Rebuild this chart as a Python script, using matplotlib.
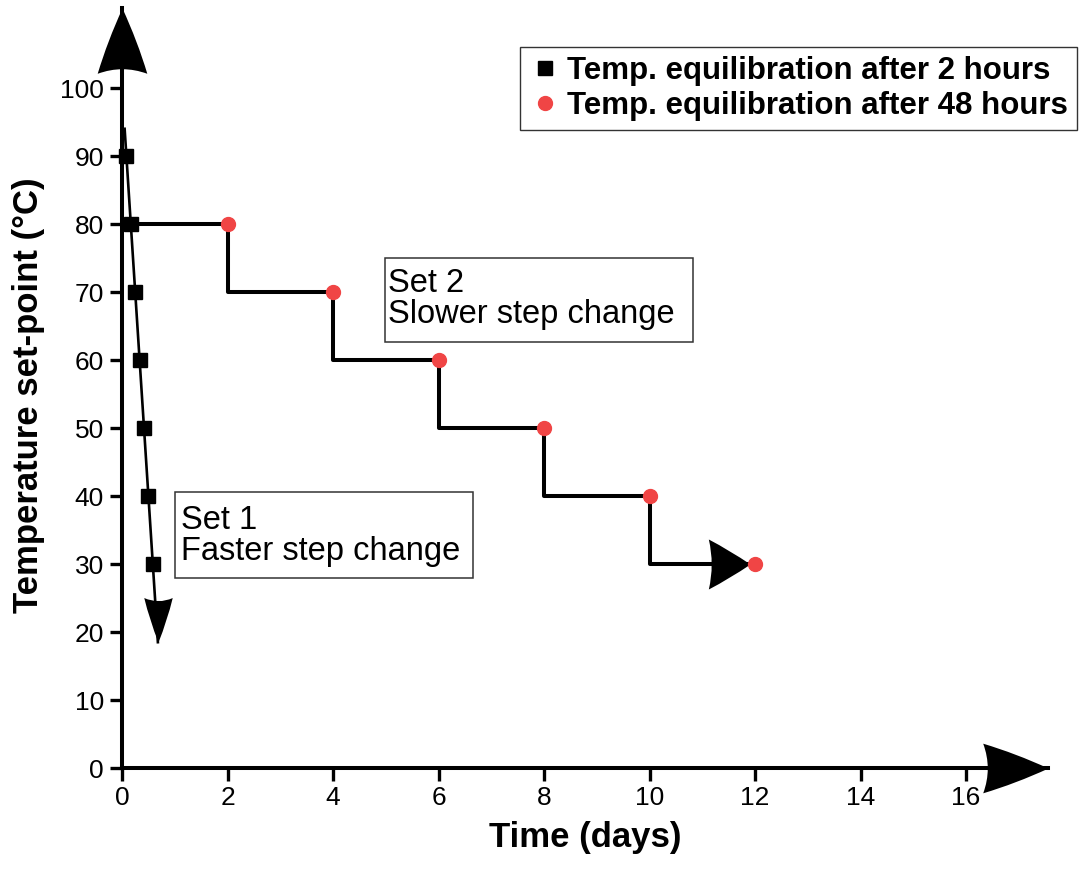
import numpy as np
import matplotlib.pyplot as plt
from matplotlib.path import Path
from matplotlib.patches import Rectangle

plt.rcParams['font.family'] = ['Liberation Sans', 'DejaVu Sans']

# ---- data ----
fast_days = [2/24, 4/24, 6/24, 8/24, 10/24, 12/24, 14/24]   # every 2 hours
fast_temp = [90, 80, 70, 60, 50, 40, 30]
slow_days = [2, 4, 6, 8, 10, 12]                              # every 48 hours
slow_temp = [80, 70, 60, 50, 40, 30]
x_ticks = [0, 2, 4, 6, 8, 10, 12, 14, 16]
y_ticks = [0, 10, 20, 30, 40, 50, 60, 70, 80, 90, 100]

fast_line_start = (0.05, 94)
fast_arrow_tip = (0.68, 18.5)
step_arrow_tip = 11.9

red = '#f04545'


def head(direction, depth=0.07, half_w=0.38, bulge=0.04):
    # arrow head with slightly concave back, tip at origin
    verts = np.array([(0, 0), (half_w / 2 + bulge, -0.5), (half_w, -1),
                      (0, -1 + 2 * depth), (-half_w, -1),
                      (-half_w / 2 - bulge, -0.5), (0, 0), (0, 0)])
    codes = [Path.MOVETO, Path.CURVE3, Path.CURVE3, Path.CURVE3, Path.CURVE3,
             Path.CURVE3, Path.CURVE3, Path.CLOSEPOLY]
    rot = {'up': 0, 'down': 180, 'right': -90}[direction]
    t = np.deg2rad(rot)
    R = np.array([[np.cos(t), -np.sin(t)], [np.sin(t), np.cos(t)]])
    return Path(verts @ R.T, codes)


fig = plt.figure(figsize=(10.81, 8.69), dpi=100)
ax = fig.add_axes([122 / 1081, 101 / 869, 926 / 1081, 760 / 869])
ax.set_xlim(0, 926 / 52.75)
ax.set_ylim(0, 760 / 6.8)

for s in ['top', 'right']:
    ax.spines[s].set_visible(False)
for s in ['left', 'bottom']:
    ax.spines[s].set_linewidth(2.9)

ax.set_xticks(x_ticks)
ax.set_yticks(y_ticks)
ax.tick_params(direction='out', length=9, width=2.4, labelsize=19, pad=4)

# axis arrow heads
ax.plot(0, 760 / 6.8, marker=head('up'), ms=94, color='black', mew=0, clip_on=False, zorder=5)
ax.plot(926 / 52.75, 0, marker=head('right'), ms=94, color='black', mew=0, clip_on=False, zorder=5)

# set 1: fast steps
ax.plot([fast_line_start[0], fast_arrow_tip[0]], [fast_line_start[1], fast_arrow_tip[1]],
        color='black', lw=1.9, clip_on=False, zorder=3)
ax.plot(*fast_arrow_tip, marker=head('down', half_w=0.32), ms=64, color='black', mew=0, zorder=4)
ax.plot(fast_days, fast_temp, 's', color='black', ms=10, clip_on=False, zorder=4,
        label='Temp. equilibration after 2 hours')

# set 2: slow steps
step_x = [0] + slow_days[:-1] + [step_arrow_tip]
step_y = slow_temp[:1] + slow_temp[1:] + slow_temp[-1:]
ax.plot(step_x, step_y, drawstyle='steps-post', color='black', lw=2.9, clip_on=False, zorder=3)
ax.plot(step_arrow_tip, slow_temp[-1], marker=head('right', half_w=0.6), ms=60, color='black',
        mew=0, zorder=4)
ax.plot(slow_days, slow_temp, 'o', color=red, ms=10, clip_on=False, zorder=5,
        label='Temp. equilibration after 48 hours')

# annotation boxes
ax.add_patch(Rectangle((4.99, 62.65), 5.83, 12.35, fill=False, ec='#333333', lw=1.1, zorder=2))
ax.text(5.04, 69.0, 'Set 2\nSlower step change', fontsize=23.5, va='center', ha='left',
        linespacing=1.0)
ax.add_patch(Rectangle((1.0, 27.9), 5.65, 12.7, fill=False, ec='#333333', lw=1.1, zorder=2))
ax.text(1.12, 34.1, 'Set 1\nFaster step change', fontsize=23.5, va='center', ha='left',
        linespacing=1.0)

ax.set_xlabel('Time (days)', fontsize=25, fontweight='bold', labelpad=8)
ax.set_ylabel('Temperature set-point (\u00b0C)', fontsize=25, fontweight='bold')
ax.yaxis.set_label_coords(-0.083, 0.49)

leg = ax.legend(loc='upper right', bbox_to_anchor=(1077 / 1081, 1 - 47 / 869),
                bbox_transform=fig.transFigure, borderaxespad=0, fancybox=False,
                prop={'size': 22.5, 'weight': 'bold'}, handletextpad=0.2, handlelength=1.0,
                borderpad=0.3, labelspacing=0.15, markerscale=1.0)
leg.get_frame().set_edgecolor('black')
leg.get_frame().set_linewidth(1.0)

fig.savefig('out.png', dpi=100)
